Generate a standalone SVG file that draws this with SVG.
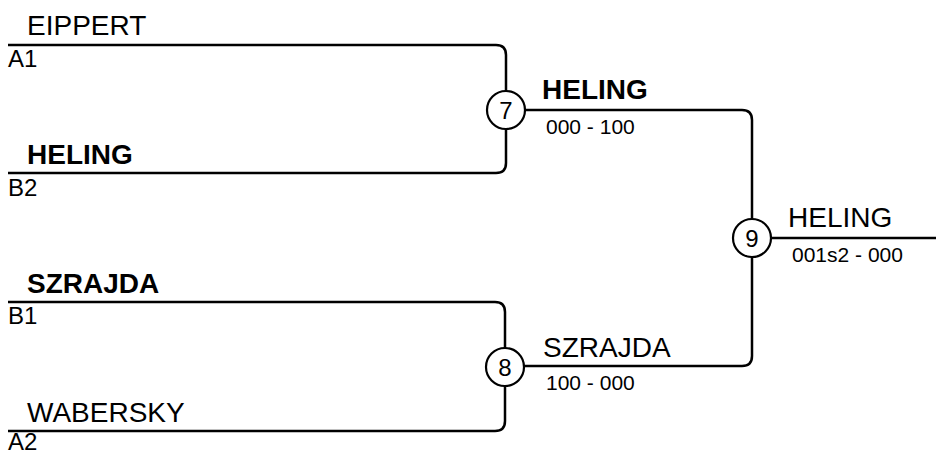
<svg xmlns="http://www.w3.org/2000/svg" width="936" height="454" viewBox="0 0 936 454">
<style>
.ln{fill:none;stroke:#000;stroke-width:2.5}
.c{fill:#fff;stroke:#000;stroke-width:2.2}
.nm{font-family:"Liberation Sans",Arial,sans-serif;font-size:28px;fill:#000}
.b{font-weight:bold}
.sd{font-family:"Liberation Sans",Arial,sans-serif;font-size:24px;fill:#000}
.sc{font-family:"Liberation Sans",Arial,sans-serif;font-size:21px;fill:#000}
.num{font-family:"Liberation Sans",Arial,sans-serif;font-size:24px;fill:#000;text-anchor:middle}
</style>
<rect width="936" height="454" fill="#fff"/>
<g id="connectors">
<path class="ln" d="M8,45 H496 Q506,45 506,55 V91"/>
<path class="ln" d="M8,173 H496 Q506,173 506,163 V129"/>
<path class="ln" d="M525,110 H742 Q752,110 752,120 V219"/>
<path class="ln" d="M8,302 H495 Q505,302 505,312 V348"/>
<path class="ln" d="M8,431 H495 Q505,431 505,421 V386"/>
<path class="ln" d="M524,366 H742 Q752,366 752,356 V257"/>
<path class="ln" d="M771,238 H936"/>
</g>
<g id="p-eippert"><text class="nm" x="27" y="35">EIPPERT</text><text class="sd" x="8" y="67">A1</text></g>
<g id="p-heling"><text class="nm b" x="27" y="164">HELING</text><text class="sd" x="8" y="196">B2</text></g>
<g id="p-szrajda"><text class="nm b" x="27" y="293">SZRAJDA</text><text class="sd" x="8" y="324">B1</text></g>
<g id="p-wabersky"><text class="nm" x="27" y="422">WABERSKY</text><text class="sd" x="8" y="450">A2</text></g>
<g id="m7"><circle class="c" cx="506" cy="110" r="19"/><text class="num" x="506" y="119">7</text>
<text class="nm b" x="542" y="99">HELING</text><text class="sc" x="546" y="134">000 - 100</text></g>
<g id="m8"><circle class="c" cx="505" cy="367" r="19"/><text class="num" x="505" y="376">8</text>
<text class="nm" x="543" y="357">SZRAJDA</text><text class="sc" x="546" y="390">100 - 000</text></g>
<g id="m9"><circle class="c" cx="752" cy="238" r="19"/><text class="num" x="752" y="247">9</text>
<text class="nm" x="788" y="227">HELING</text><text class="sc" x="792" y="262">001s2 - 000</text></g>
</svg>
